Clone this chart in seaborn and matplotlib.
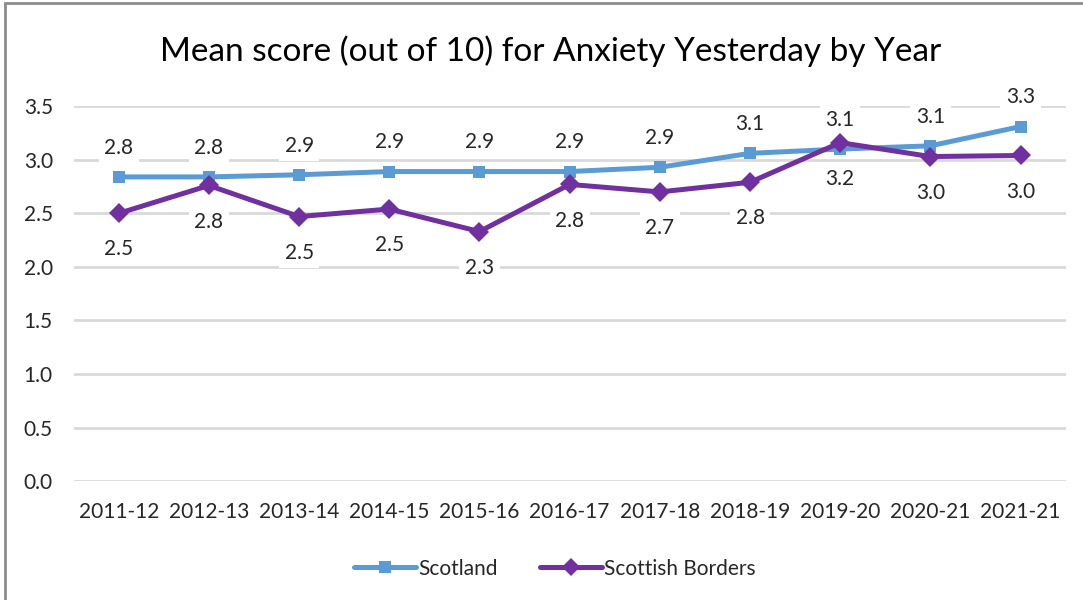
import matplotlib
matplotlib.use('Agg')
import matplotlib.pyplot as plt
import seaborn as sns
import pandas as pd
from matplotlib.patches import Rectangle

# Data
years = ['2011-12', '2012-13', '2013-14', '2014-15', '2015-16', '2016-17',
         '2017-18', '2018-19', '2019-20', '2020-21', '2021-21']
scotland = [2.84, 2.84, 2.86, 2.89, 2.89, 2.89, 2.93, 3.06, 3.10, 3.13, 3.31]
borders = [2.50, 2.76, 2.47, 2.54, 2.33, 2.77, 2.70, 2.79, 3.16, 3.03, 3.04]

sns.set_theme(style='white')
plt.rcParams['font.family'] = ['Lato', 'DejaVu Sans']

df = pd.DataFrame({'year': years, 'Scotland': scotland, 'Scottish Borders': borders})
long_df = df.melt(id_vars='year', var_name='area', value_name='score')

fig = plt.figure(figsize=(10.83, 6), dpi=100)
ax = fig.add_axes([0.068, 0.198, 0.916, 0.625])

palette = {'Scotland': '#5B9BD5', 'Scottish Borders': '#7030A0'}
sns.lineplot(data=long_df, x='year', y='score', hue='area', style='area',
             markers={'Scotland': 's', 'Scottish Borders': 'D'},
             dashes=False, palette=palette, linewidth=3.6, ax=ax,
             markeredgewidth=0, sort=False)
for line, ms in zip(ax.lines, [8, 10]):
    line.set_markersize(ms)

ax.set_xlim(-0.5, len(years) - 0.5)
ax.set_ylim(0, 3.5)
ax.set_yticks([0, 0.5, 1.0, 1.5, 2.0, 2.5, 3.0, 3.5])
ax.set_yticklabels([f'{v:.1f}' for v in ax.get_yticks()])
ax.yaxis.grid(True, color='#D9D9D9', linewidth=2)
ax.set_axisbelow(True)
for s in ax.spines.values():
    s.set_visible(False)
ax.tick_params(axis='both', labelsize=15, colors='#262626', length=0)
ax.tick_params(axis='y', pad=15)
ax.tick_params(axis='x', pad=15)
ax.set_xlabel('')
ax.set_ylabel('')

box = dict(facecolor='white', edgecolor='none', pad=4)
for i, (s, b) in enumerate(zip(scotland, borders)):
    ax.annotate(f'{s:.1f}', (i, s), xytext=(0, 21), textcoords='offset points',
                ha='center', va='center', fontsize=15, color='#262626', bbox=box, zorder=1)
    ax.annotate(f'{b:.1f}', (i, b), xytext=(0, -26), textcoords='offset points',
                ha='center', va='center', fontsize=15, color='#262626', bbox=box, zorder=1)

fig.text(0.508, 0.915, 'Mean score (out of 10) for Anxiety Yesterday by Year',
         ha='center', va='center', fontsize=24, color='black')

handles, labels = ax.get_legend_handles_labels()
leg = ax.legend(handles, labels, loc='center', bbox_to_anchor=(0.485, -0.233),
                bbox_transform=ax.transAxes, ncol=2, frameon=False, fontsize=15,
                handlelength=3.0, handletextpad=0.1, columnspacing=2.0)
for h in leg.legend_handles:
    h.set_markersize(9)

fig.patches.append(Rectangle((5 / 1083, -0.1), 1.2, 1.1 - 3 / 600, transform=fig.transFigure,
                             fill=False, edgecolor='#8C8C8C', linewidth=2))

fig.savefig('out.png', dpi=100)
